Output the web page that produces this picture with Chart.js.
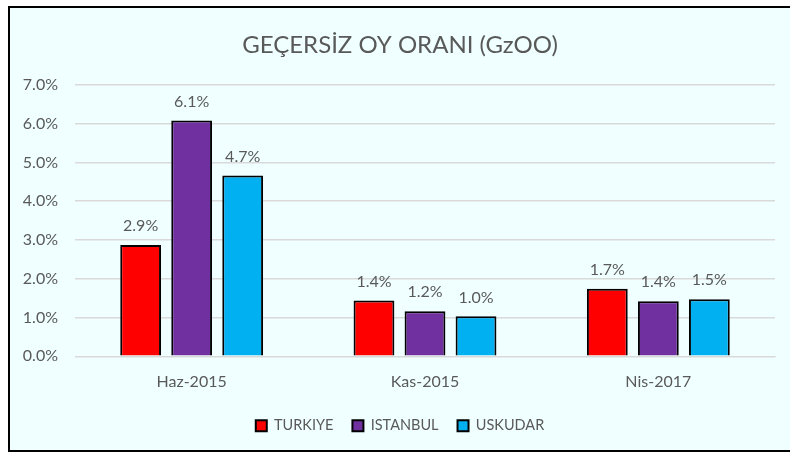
<!DOCTYPE html>
<html>
<head>
<meta charset="utf-8">
<script src="https://cdn.jsdelivr.net/npm/chart.js@4"></script>
<style>
  html, body { margin: 0; padding: 0; background: #fff; overflow: hidden; }
  #box {
    position: absolute; left: 8px; top: 6px;
    width: 786px; height: 442px;
    border: 2px solid #000; background: #F0FFFF;
  }
  canvas { display: block; }
</style>
</head>
<body>
<div id="box"><canvas id="chart" width="780" height="442"></canvas></div>
<script>
// data
const periods = ['Haz-2015', 'Kas-2015', 'Nis-2017'];
const turkiye = [2.87, 1.44, 1.74];
const istanbul = [6.08, 1.16, 1.42];
const uskudar = [4.66, 1.03, 1.47];
const yTicks = [0, 1, 2, 3, 4, 5, 6, 7];

const grey = '#595959';
const fontFam = 'Lato, "Noto Sans", sans-serif';

// value labels above each bar
const barLabels = {
  id: 'barLabels',
  afterDatasetsDraw(chart) {
    const ctx = chart.ctx;
    ctx.save();
    ctx.font = '16px ' + fontFam;
    ctx.fillStyle = grey;
    ctx.textAlign = 'center';
    ctx.textBaseline = 'middle';
    chart.data.datasets.forEach((ds, i) => {
      chart.getDatasetMeta(i).data.forEach((bar, j) => {
        ctx.fillText(ds.data[j].toFixed(1) + '%', bar.x, bar.y - 19);
      });
    });
    ctx.restore();
  }
};

const ds = (label, data, color) => ({
  label, data,
  backgroundColor: color,
  borderColor: '#000',
  borderWidth: 2,
  categoryPercentage: 0.656,
  barPercentage: 0.8
});

new Chart(document.getElementById('chart'), {
  type: 'bar',
  data: {
    labels: periods,
    datasets: [
      ds('TURKIYE', turkiye, '#FF0000'),
      ds('ISTANBUL', istanbul, '#7030A0'),
      ds('USKUDAR', uskudar, '#00B0F0')
    ]
  },
  options: {
    responsive: false,
    animation: false,
    layout: { padding: { left: 0, right: 0, top: 0, bottom: 7 } },
    plugins: {
      title: {
        display: true,
        text: 'GEÇERSİZ OY ORANI (GzOO)',
        color: grey,
        font: { family: fontFam, size: 24, weight: 'normal' },
        padding: { top: 23, bottom: 25 }
      },
      legend: {
        position: 'bottom',
        labels: {
          color: grey,
          font: { family: fontFam, size: 14.5 },
          boxWidth: 11,
          boxHeight: 11,
          padding: 19
        }
      },
      tooltip: { enabled: false }
    },
    scales: {
      x: {
        grid: { display: false },
        border: { color: '#D9D9D9', width: 1 },
        ticks: { color: grey, font: { family: fontFam, size: 16 }, padding: 8 }
      },
      y: {
        min: 0, max: 7,
        afterFit: s => { s.width = 65; },
        afterBuildTicks: s => { s.ticks = yTicks.map(v => ({ value: v })); },
        grid: { color: '#D9D9D9', lineWidth: 1.5, drawTicks: false },
        border: { display: false },
        ticks: {
          color: grey,
          font: { family: fontFam, size: 16 },
          padding: 17,
          callback: v => v.toFixed(1) + '%'
        }
      },
      // empty right axis, only keeps a little space right of the plot
      spacer: {
        type: 'linear',
        position: 'right',
        grid: { display: false },
        border: { display: false },
        ticks: { display: false },
        afterFit: s => { s.width = 15; }
      }
    }
  },
  plugins: [barLabels]
});
</script>
</body>
</html>
